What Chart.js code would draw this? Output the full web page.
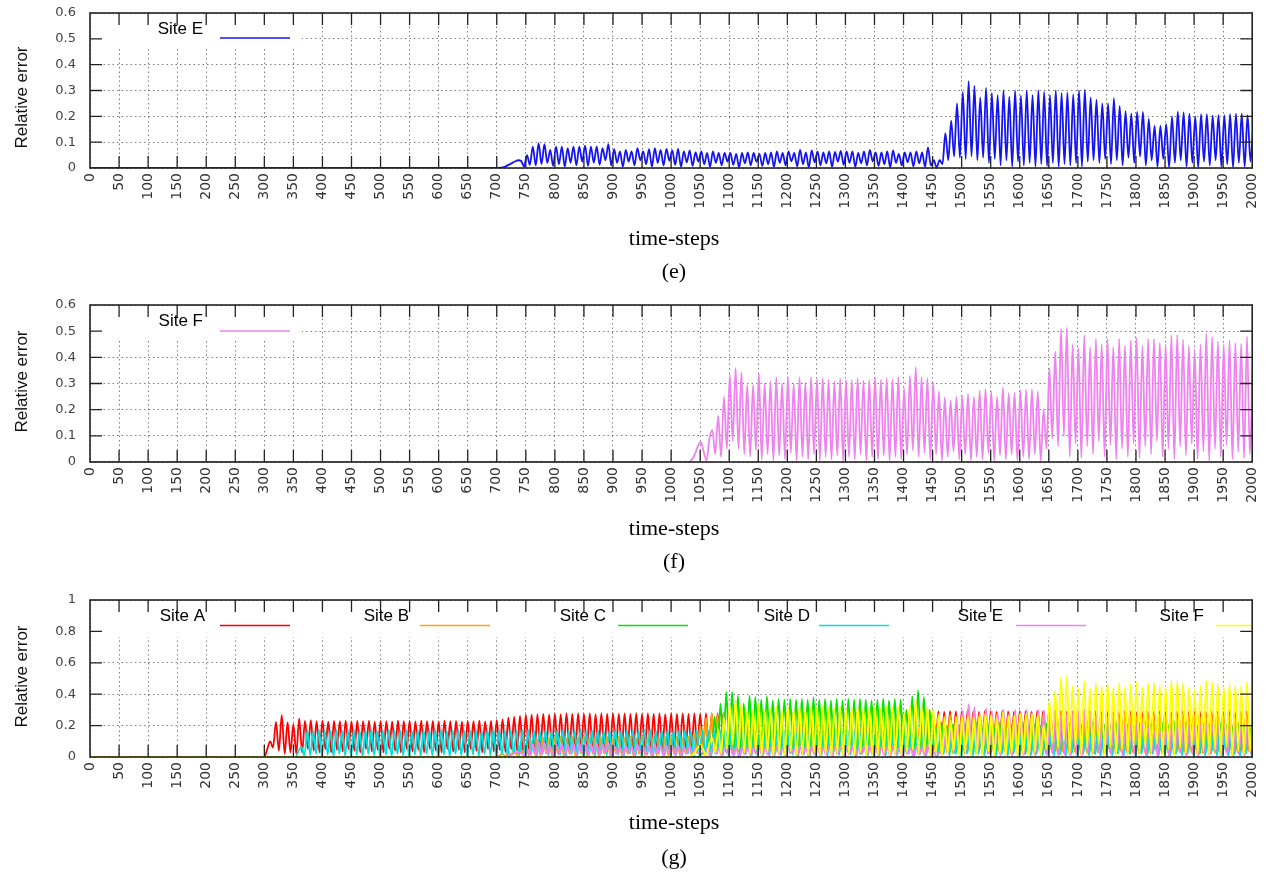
<!DOCTYPE html>
<html><head><meta charset="utf-8">
<script src="https://cdn.jsdelivr.net/npm/chart.js@4.4.0/dist/chart.umd.min.js"></script>
<style>
body{margin:0;background:#fff;width:1274px;height:875px;position:relative;overflow:hidden;}
.pw{position:absolute;left:0;width:1274px;}
.cap{position:absolute;left:0;width:1348px;text-align:center;font-family:"Liberation Serif",serif;font-size:22px;line-height:22px;color:#000;white-space:nowrap;}
</style></head>
<body>
<div class="pw" style="top:0;height:290px"><canvas id="ce"></canvas></div>
<div class="pw" style="top:290px;height:295px"><canvas id="cf"></canvas></div>
<div class="pw" style="top:585px;height:290px"><canvas id="cg"></canvas></div>
<div class="cap" style="top:227px">time-steps</div>
<div class="cap" style="top:260px">(e)</div>
<div class="cap" style="top:517px">time-steps</div>
<div class="cap" style="top:550px">(f)</div>
<div class="cap" style="top:811px">time-steps</div>
<div class="cap" style="top:846px">(g)</div>
<script>
// ---- data: relative error sampled every 5 time-steps, starting at the given step (0 before) ----
const xMin = 0, xMax = 2000, xTickStep = 50;
const sampleStep = 5;

const siteAStart = 300;
const siteA = [
0,.05,.1,.06,.223,.04,.266,.02,.22,.03,
.21,.02,.245,.03,.23,.05,.235,.04,.228,.03,
.232,.05,.225,.03,.23,.045,.228,.035,.232,.05,
.226,.04,.23,.03,.228,.05,.232,.035,.225,.045,
.23,.03,.228,.05,.226,.04,.232,.03,.228,.05,
.23,.035,.226,.045,.232,.03,.228,.05,.23,.04,
.226,.03,.232,.05,.228,.035,.23,.045,.225,.03,
.23,.05,.228,.04,.232,.03,.226,.05,.23,.035,
.235,.045,.24,.03,.25,.05,.255,.04,.262,.035,
.268,.05,.27,.03,.272,.045,.275,.04,.27,.05,
.276,.035,.272,.05,.278,.04,.274,.03,.278,.05,
.275,.04,.278,.035,.272,.05,.277,.03,.275,.045,
.278,.04,.274,.05,.277,.03,.275,.045,.279,.035,
.274,.05,.277,.04,.275,.03,.278,.05,.273,.04,
.277,.035,.275,.05,.278,.04,.274,.03,.277,.045,
.275,.04,.278,.035,.276,.05,.278,.04,.28,.03,
.282,.045,.28,.035,.283,.05,.28,.04,.282,.03,
.28,.05,.283,.04,.28,.035,.282,.05,.28,.04,
.283,.03,.28,.045,.282,.035,.28,.05,.283,.04,
.28,.03,.282,.05,.28,.04,.283,.035,.28,.045,
.282,.03,.28,.05,.283,.04,.28,.035,.282,.05,
.28,.04,.283,.03,.28,.045,.282,.035,.28,.05,
.283,.04,.28,.03,.282,.05,.28,.04,.283,.035,
.285,.05,.29,.04,.288,.03,.292,.05,.29,.04,
.288,.035,.292,.05,.29,.04,.288,.03,.292,.045,
.29,.04,.288,.05,.292,.035,.29,.04,.288,.05,
.292,.03,.29,.045,.288,.04,.292,.05,.29,.035,
.288,.045,.292,.04,.29,.03,.288,.05,.292,.04,
.29,.035,.288,.05,.292,.04,.29,.03,.288,.045,
.292,.04,.29,.05,.288,.035,.292,.04,.29,.03,
.288,.05,.292,.04,.29,.035,.288,.045,.292,.04,
.29,.03,.288,.05,.292,.04,.29,.035,.288,.045,
.292,.04,.29,.03,.288,.05,.292,.04,.29,.035,
.288,.045,.292,.04,.29,.03,.288,.05,.292,.04
];

const siteBStart = 700;
const siteB = [
0,.01,.02,.005,.03,.01,.05,.01,.07,.02,
.09,.01,.1,.02,.11,.01,.12,.02,.12,.01,
.125,.02,.13,.01,.12,.02,.13,.01,.125,.02,
.13,.01,.12,.02,.13,.01,.125,.02,.13,.01,
.12,.02,.13,.01,.125,.02,.13,.01,.12,.02,
.13,.01,.125,.02,.13,.01,.12,.02,.13,.01,
.125,.02,.13,.01,.12,.02,.13,.01,.15,.02,
.2,.03,.25,.02,.28,.03,.27,.02,.28,.03,
.27,.02,.28,.03,.27,.02,.28,.03,.27,.02,
.28,.03,.27,.02,.28,.03,.27,.02,.28,.03,
.27,.02,.28,.03,.27,.02,.28,.03,.27,.02,
.28,.03,.27,.02,.28,.03,.27,.02,.28,.03,
.27,.02,.28,.03,.27,.02,.28,.03,.27,.02,
.28,.03,.27,.02,.28,.03,.27,.02,.28,.03,
.27,.02,.28,.03,.27,.02,.28,.03,.27,.02,
.26,.03,.27,.02,.26,.03,.27,.02,.26,.03,
.27,.02,.26,.03,.27,.02,.26,.03,.27,.02,
.26,.03,.27,.02,.26,.03,.27,.02,.26,.03,
.27,.02,.26,.03,.27,.02,.26,.03,.27,.02,
.26,.03,.27,.02,.26,.03,.27,.02,.26,.03,
.27,.02,.26,.03,.27,.02,.26,.03,.27,.02,
.26,.03,.27,.02,.26,.03,.27,.02,.26,.03,
.27,.02,.26,.03,.27,.02,.26,.03,.27,.02,
.26,.03,.27,.02,.26,.03,.27,.02,.26,.03,
.27,.02,.26,.03,.27,.02,.26,.03,.27,.02,
.26,.03,.27,.02,.26,.03,.27,.02,.26,.03
];

const siteCStart = 1045;
const siteC = [
0,.01,.03,.05,.12,.03,.255,.04,.34,.05,
.415,.06,.415,.04,.39,.03,.34,.05,.39,.04,
.383,.03,.366,.05,.387,.04,.36,.03,.37,.05,
.366,.04,.37,.03,.366,.05,.37,.04,.366,.03,
.38,.05,.366,.04,.37,.03,.36,.05,.37,.04,
.36,.03,.37,.05,.366,.04,.372,.03,.366,.05,
.36,.04,.366,.03,.372,.05,.36,.04,.37,.03,
.366,.05,.3,.04,.387,.03,.425,.05,.383,.04,
.3,.03,.2,.02,.22,.04,.2,.03,.21,.02,
.19,.04,.21,.03,.2,.02,.22,.04,.19,.03,
.21,.02,.2,.04,.22,.03,.19,.02,.21,.04,
.2,.03,.22,.02,.19,.04,.21,.03,.2,.02,
.22,.04,.19,.03,.21,.02,.2,.04,.22,.03,
.19,.02,.21,.04,.2,.03,.22,.02,.19,.04,
.21,.03,.2,.02,.22,.04,.19,.03,.21,.02,
.2,.04,.22,.03,.23,.02,.21,.04,.2,.03,
.22,.02,.21,.04,.23,.03,.2,.02,.22,.04,
.21,.03,.2,.02,.22,.04,.21,.03,.2,.02,
.22,.04,.21,.03,.2,.02,.22,.04,.21,.03,
.2,.02
];

const siteDStart = 354;
const siteD = [
0,.04,.064,.01,.17,.01,.165,.02,.172,.005,
.168,.015,.17,.005,.174,.02,.166,.01,.17,.005,
.172,.015,.168,.005,.17,.02,.174,.01,.166,.005,
.17,.015,.172,.005,.168,.02,.17,.01,.174,.005,
.166,.015,.17,.005,.172,.02,.168,.01,.17,.005,
.174,.015,.166,.005,.17,.02,.172,.01,.168,.005,
.17,.015,.174,.005,.166,.02,.17,.01,.172,.005,
.168,.015,.17,.005,.174,.02,.166,.01,.17,.005,
.172,.015,.168,.005,.17,.02,.174,.01,.166,.005,
.17,.015,.172,.005,.168,.02,.17,.01,.174,.005,
.166,.015,.17,.005,.172,.02,.168,.01,.17,.005,
.174,.015,.166,.005,.17,.02,.172,.01,.168,.005,
.17,.015,.174,.005,.166,.02,.17,.01,.172,.005,
.168,.015,.17,.005,.174,.02,.166,.01,.17,.005,
.172,.015,.168,.005,.17,.02,.174,.01,.166,.005,
.17,.015,.172,.005,.168,.02,.17,.01,.174,.005,
.17,.015,.172,.005,.168,.02,.17,.01,.174,.005,
.166,.015,.17,.005,.172,.02,.168,.01,.17,.005,
.174,.015,.166,.005,.17,.02,.172,.01,.168,.005,
.17,.015,.174,.005,.166,.02,.17,.01,.172,.005,
.168,.015,.17,.005,.174,.02,.166,.01,.17,.005,
.14,.02,.15,.01,.13,.02,.16,.01,.12,.02,
.15,.01,.14,.02,.13,.01,.16,.02,.14,.01,
.12,.02,.15,.01,.14,.02,.16,.01,.13,.02,
.14,.01,.12,.02,.15,.01,.14,.02,.13,.01,
.16,.02,.14,.01,.12,.02,.15,.01,.14,.02,
.13,.01,.16,.02,.14,.01,.12,.02,.15,.01,
.14,.02,.13,.01,.16,.02,.14,.01,.12,.02,
.15,.01,.14,.02,.13,.01,.16,.02,.14,.01,
.12,.02,.15,.01,.14,.02,.16,.01,.13,.02,
.14,.01,.12,.02,.15,.01,.14,.02,.13,.01,
.16,.02,.14,.01,.12,.02,.15,.01,.14,.02,
.13,.01,.16,.02,.14,.01,.12,.02,.15,.01
];

const siteEStart = 702;
const siteE = [
0,.001,.003,.008,.014,.02,.026,.03,.027,.006,
.05,.012,.083,.01,.096,.015,.092,.02,.07,.008,
.083,.015,.083,.005,.077,.02,.083,.01,.083,.025,
.087,.008,.083,.02,.083,.012,.077,.03,.092,.01,
.073,.02,.064,.005,.07,.025,.064,.01,.077,.03,
.064,.015,.073,.005,.077,.02,.07,.01,.074,.028,
.068,.012,.074,.005,.064,.022,.068,.008,.06,.025,
.064,.015,.058,.005,.064,.02,.058,.01,.058,.025,
.058,.012,.055,.003,.058,.018,.06,.01,.058,.024,
.055,.008,.058,.015,.06,.004,.064,.02,.058,.01,
.064,.026,.058,.006,.07,.015,.06,.003,.068,.022,
.064,.01,.06,.018,.064,.005,.062,.025,.066,.012,
.064,.02,.064,.005,.058,.018,.064,.01,.07,.026,
.06,.008,.06,.015,.064,.003,.068,.02,.055,.01,
.06,.022,.06,.006,.064,.018,.06,.004,.08,.01,
.03,.002,.03,.015,.135,.03,.183,.045,.25,.04,
.295,.035,.336,.045,.318,.03,.273,.04,.31,.02,
.29,.035,.282,.01,.3,.03,.276,.005,.3,.025,
.28,.01,.3,.02,.282,.005,.3,.015,.295,.008,
.282,.02,.3,.005,.29,.015,.292,.01,.285,.02,
.3,.005,.303,.025,.273,.03,.265,.02,.25,.035,
.25,.015,.27,.03,.24,.01,.22,.04,.21,.02,
.217,.045,.217,.01,.19,.03,.163,.005,.163,.035,
.17,.002,.2,.02,.218,.03,.215,.005,.21,.02,
.2,.002,.208,.025,.208,.01,.203,.03,.205,.005,
.205,.015,.208,.002,.21,.02,.21,.005,.205,.025,
.17
];

const siteFStart = 1031;
const siteF = [
0,.01,.03,.06,.077,.04,.006,.09,.122,.03,
.176,.02,.25,.05,.333,.08,.359,.05,.342,.03,
.295,.02,.295,.045,.34,.01,.3,.03,.308,.005,
.324,.025,.3,.01,.327,.035,.3,.005,.324,.02,
.304,.01,.324,.03,.317,.005,.32,.02,.314,.01,
.308,.025,.32,.005,.314,.02,.314,.01,.32,.03,
.311,.005,.314,.02,.324,.01,.314,.025,.32,.005,
.317,.02,.324,.01,.282,.03,.33,.045,.363,.02,
.324,.035,.32,.01,.304,.03,.27,.005,.247,.02,
.235,.04,.25,.01,.253,.03,.26,.005,.25,.02,
.273,.01,.278,.035,.27,.005,.25,.025,.285,.01,
.263,.03,.265,.005,.276,.02,.276,.01,.278,.03,
.27,.005,.2,.05,.36,.09,.423,.06,.51,.1,
.513,.02,.45,.07,.436,.015,.485,.06,.44,.03,
.47,.08,.45,.02,.47,.065,.44,.01,.47,.05,
.445,.02,.465,.07,.475,.015,.445,.06,.47,.03,
.47,.08,.455,.02,.45,.05,.485,.01,.487,.06,
.468,.025,.445,.07,.43,.01,.45,.04,.49,.005,
.478,.05,.462,.02,.45,.065,.465,.01,.455,.04,
.452,.015,.48,.03,.37
];

const labels = ['Site A','Site B','Site C','Site D','Site E','Site F'];
const colorsG = ['#ff0000','#ffa500','#00e600','#00e0e0','#ee82ee','#ffff00'];
const colorE = '#1414f0', colorF = '#ee82ee';

// ---- helpers ----
function pts(start, vals){
  const out = [{x: xMin, y: 0}];
  vals.forEach((v,i) => out.push({x: start + sampleStep*i, y: v}));
  return out;
}
function ds(label, color, start, vals, order){
  return {label, data: pts(start, vals), borderColor: color, backgroundColor: color,
    borderWidth: 1.8, pointRadius: 0, fill: false, cubicInterpolationMode: 'monotone', order};
}

const framePlugin = {
  id: 'frame',
  afterDraw(chart, args, opts){
    const {ctx, chartArea: a, scales: {x, y}} = chart;
    ctx.save();
    ctx.strokeStyle = '#222'; ctx.lineWidth = 1.6;
    ctx.strokeRect(a.left, a.top, a.right - a.left, a.bottom - a.top);
    ctx.lineWidth = 1.3; ctx.beginPath();
    x.ticks.forEach(t => { const px = x.getPixelForValue(t.value);
      if (px <= a.left + 1 || px >= a.right - 1) return;
      ctx.moveTo(px, a.bottom); ctx.lineTo(px, a.bottom - 12);
      ctx.moveTo(px, a.top); ctx.lineTo(px, a.top + 12); });
    y.ticks.forEach(t => { const py = y.getPixelForValue(t.value);
      if (py >= a.bottom - 1 || py <= a.top + 1) return;
      ctx.moveTo(a.left, py); ctx.lineTo(a.left + 12, py);
      ctx.moveTo(a.right, py); ctx.lineTo(a.right - 12, py); });
    ctx.stroke();
    // y axis title
    ctx.translate(27, (a.top + a.bottom)/2 + opts.titleDy);
    ctx.rotate(-Math.PI/2);
    ctx.font = '17px "Liberation Sans"'; ctx.fillStyle = '#111';
    ctx.textAlign = 'center'; ctx.textBaseline = 'alphabetic';
    ctx.fillText('Relative error', 0, 0);
    ctx.restore();
  }
};

const keyPlugin = {
  id: 'siteKey',
  beforeDatasetsDraw(chart, args, opts){
    const {ctx, chartArea: a} = chart;
    ctx.save();
    ctx.fillStyle = '#fff';
    const boxRight = opts.boxWidth ? a.left + opts.boxWidth : a.right;
    ctx.fillRect(a.left + 1, a.top + 1, boxRight - a.left - 1, opts.boxHeight);
    ctx.font = '17px "Liberation Sans"'; ctx.textAlign = 'right'; ctx.textBaseline = 'middle';
    opts.slots.forEach((s, i) => {
      const d = chart.data.datasets[i];
      ctx.fillStyle = '#000';
      ctx.fillText(d.label, a.left + s[0], a.top + opts.textDy);
      ctx.strokeStyle = d.borderColor; ctx.lineWidth = 1.6;
      ctx.beginPath();
      ctx.moveTo(a.left + s[1], a.top + opts.lineDy);
      ctx.lineTo(Math.min(a.left + s[1] + 70, a.right), a.top + opts.lineDy);
      ctx.stroke();
    });
    ctx.restore();
  }
};

function makeChart(id, datasets, yMax, yStep, padTop, xHeight, key, titleDy){
  return new Chart(document.getElementById(id), {
    type: 'line',
    data: {datasets},
    options: {
      responsive: true, maintainAspectRatio: false, animation: false,
      layout: {padding: {top: padTop, right: 18, left: 0, bottom: 0}},
      plugins: {legend: {display: false}, tooltip: {enabled: false},
        siteKey: key, frame: {titleDy}},
      scales: {
        x: {type: 'linear', min: xMin, max: xMax,
          ticks: {stepSize: xTickStep, autoSkip: false, minRotation: 90, maxRotation: 90,
            padding: 5, color: '#333', font: {family: '"DejaVu Sans"', size: 14},
            callback: v => String(v)},
          grid: {color: 'rgba(70,70,70,0.7)', lineWidth: 1, drawTicks: false},
          border: {display: false, dash: [1.5, 3]},
          afterFit: s => { s.height = xHeight; }},
        y: {min: 0, max: yMax,
          ticks: {stepSize: yStep, padding: 14, color: '#444',
            font: {family: '"DejaVu Sans"', size: 13},
            callback: v => String(Math.round(v*10)/10)},
          grid: {color: 'rgba(70,70,70,0.7)', lineWidth: 1, drawTicks: false},
          border: {display: false, dash: [1.5, 3]},
          afterFit: s => { s.width = 90; s.paddingTop = 0; s.paddingBottom = 0; }}
      }
    },
    plugins: [keyPlugin, framePlugin]
  });
}

makeChart('ce', [ds('Site E', colorE, siteEStart, siteE, 1)], 0.6, 0.1, 13, 122,
  {slots: [[113, 130]], boxWidth: 212, boxHeight: 35, textDy: 16, lineDy: 25}, 7);
makeChart('cf', [ds('Site F', colorF, siteFStart, siteF, 1)], 0.6, 0.1, 15, 123,
  {slots: [[113, 130]], boxWidth: 212, boxHeight: 35, textDy: 16, lineDy: 26}, -2);
makeChart('cg', [
    ds(labels[0], colorsG[0], siteAStart, siteA, 6),
    ds(labels[1], colorsG[1], siteBStart, siteB, 5),
    ds(labels[2], colorsG[2], siteCStart, siteC, 4),
    ds(labels[3], colorsG[3], siteDStart, siteD, 3),
    ds(labels[4], colorsG[4], siteEStart, siteE, 2),
    ds(labels[5], colorsG[5], siteFStart, siteF, 1)
  ], 1, 0.2, 15, 118,
  {slots: [[115,130],[319,330],[516,528],[720,729],[913,926],[1114,1126]], boxHeight: 36, textDy: 16, lineDy: 25.5}, -2);
</script>
</body></html>
